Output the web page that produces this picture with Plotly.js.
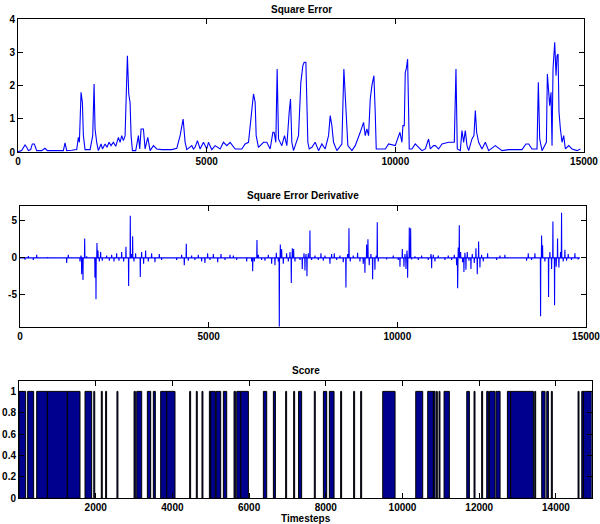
<!DOCTYPE html>
<html>
<head>
<meta charset="utf-8">
<script src="https://cdn.plot.ly/plotly-3.0.1.min.js"></script>
<style>html,body{margin:0;padding:0;background:#fff;}#chart{width:600px;height:524px;}</style>
</head>
<body>
<div id="chart"></div>
<script>
// ---- Square Error (timestep, value) ----
var seX = [0,10,97,186,230,274,336,380,433,495,628,716,778,981,1202,1246,1291,1423,1556,1600,1627,1671,1706,1733,1777,1910,1980,2016,2042,2086,2130,2201,2237,2307,2360,2413,2466,2528,2590,2661,2705,2749,2793,2838,2864,2899,2935,2970,2997,3032,3120,3191,3226,3262,3324,3368,3439,3501,3589,3677,3810,4075,4208,4296,4376,4429,4473,4606,4650,4694,4756,4826,4915,5003,
5047,5136,5224,5357,5445,5534,5622,5755,5931,6020,6108,6170,6241,6285,6312,6373,6506,6594,6683,6754,6789,6833,6868,6904,6992,7063,7125,7187,7222,7257,7302,7434,7496,7549,7584,7629,7655,7682,7717,7788,7876,7965,8053,8141,8230,8274,8318,8362,8451,8583,8636,8689,8742,8849,8937,9070,9158,9202,9246,9291,9335,9379,9432,9467,9494,9733,9821,
9998,10086,10122,10175,10201,10237,10263,10290,10325,10352,10369,10440,10528,10617,10705,10794,10882,10926,11015,11059,11147,11236,11412,11501,11563,11607,11642,11722,11766,11810,11854,11899,11943,12031,12084,12120,12155,12208,12296,12385,12473,12650,12827,13004,13357,13463,13534,13622,13755,13790,13826,13888,14003,14029,14064,14091,14126,14153,14179,14206,14224,14259,14285,14312,14338,14374,14418,14462,14506,14595,14683,14816,14904];
var seY = [0.02,0.02,0.05,0.22,0.15,0.05,0.08,0.25,0.25,0.05,0.05,0.12,0.05,0.04,0.05,0.28,0.05,0.06,0.08,0.45,0.3,1.8,1.5,0.5,0.08,0.08,0.5,2.05,0.7,0.3,0.05,0.25,0.1,0.25,0.15,0.3,0.2,0.3,0.18,0.45,0.3,0.5,0.35,0.5,1.8,2.9,1.75,1.5,0.5,0.05,0.05,0.5,0.1,0.7,0.7,0.1,0.45,0.05,0.2,0.1,0.08,0.08,0.12,0.5,1.0,0.3,0.08,0.2,0.1,0.15,0.35,0.1,0.3,0.1,
0.3,0.08,0.2,0.1,0.3,0.2,0.3,0.1,0.1,0.25,0.3,1.0,1.75,1.5,0.5,0.15,0.3,0.3,0.1,0.6,0.6,0.3,2.5,0.4,0.2,0.5,0.2,1.2,1.6,0.3,0.05,0.5,2.1,2.6,2.7,2.7,1.5,0.3,0.1,0.15,0.3,0.05,0.25,0.1,0.5,1.1,0.8,0.3,0.05,0.25,2.5,1.5,0.2,0.05,0.2,0.6,0.9,0.5,0.7,0.5,1.6,2.0,2.3,1.2,0.1,0.1,0.25,
0.2,0.5,0.6,0.3,0.8,0.8,2.4,2.5,2.8,1.2,0.1,0.1,0.25,0.15,0.05,0.1,0.4,0.1,0.2,0.2,0.1,0.25,0.3,0.3,0.3,2.5,0.1,0.05,0.65,0.3,0.65,0.2,0.05,0.4,0.5,1.25,0.6,0.3,0.1,0.3,0.05,0.2,0.05,0.08,0.08,0.25,0.25,0.1,0.1,2.1,0.4,0.05,0.3,2.35,1.8,1.4,1.8,0.2,2.5,3.05,3.3,2.3,2.9,2.95,1.2,0.7,0.3,0.5,0.1,0.2,0.1,0.05,0.1];

// ---- Square Error Derivative: spike positions and values (baseline 0 elsewhere) ----
var dSpikeX = [133,221,354,442,733,1237,1281,1590,1616,1634,1669,1714,1766,1987,2014,2040,2067,2102,2137,2181,2296,2367,2429,2491,2561,2623,2694,2747,2808,2879,2923,2959,2985,3020,3064,3188,3223,3276,3329,3400,3488,3577,3692,3753,4151,4283,4354,4407,4460,4548,4636,4725,4813,4901,4972,
5035,5124,5239,5327,5433,5565,5654,5742,6007,6139,6166,6210,6280,6316,6404,6492,6581,6669,6757,6793,6846,6872,6899,6934,6978,7066,7111,7155,7190,7217,7252,7287,7420,7481,7526,7552,7579,7605,7640,7684,7729,7817,7905,7976,8038,8082,8214,8258,8329,8391,8479,8567,8638,8682,8718,8753,8832,8947,9009,9097,9141,9186,9221,9256,9300,9345,9406,9442,9468,9495,9715,9892,10024,
10070,10132,10176,10202,10229,10255,10273,10317,10353,10379,10467,10556,10644,10820,10891,10909,10953,10997,11085,11262,11350,11439,11509,11571,11598,11615,11642,11677,11730,11765,11792,11818,11854,11898,11951,11986,12039,12083,12119,12154,12189,12233,12277,12392,12631,12719,12851,13425,13470,13558,13646,13796,13823,13849,13911,14008,14043,14088,14123,14167,14211,14246,14282,14326,14352,14396,14441,14485,14529,14617,14706,14794];
var dSpikeY = [-0.25,0.25,-0.3,0.4,0.1,-0.7,0.4,-0.5,0.3,-2.2,-3.0,2.6,0.2,-2.7,-5.6,2.0,1.0,-0.5,0.8,-0.4,0.3,-0.4,0.4,-0.5,0.6,-0.4,0.8,-0.5,1.5,-3.8,5.7,0.5,2.9,-0.5,0.6,-2.6,0.8,-0.8,1.0,-0.5,0.6,-0.6,0.5,-0.3,-0.3,0.4,-1.0,1.9,-0.4,0.3,-0.3,0.4,-0.5,-0.7,0.6,
-0.3,0.5,-0.6,0.5,-0.3,0.4,0.3,-0.3,-0.5,-0.5,-1.8,-0.5,2.4,0.4,-0.3,-0.4,0.4,-0.8,-1.0,0.7,-0.5,-9.3,1.8,1.2,-0.8,0.6,-0.5,0.8,-3.4,1.3,1.2,-0.5,-0.3,-1.5,0.6,-1.7,0.5,-2.5,0.6,3.7,-0.3,0.3,-0.3,0.6,-0.4,0.3,-0.8,0.5,0.6,-0.3,0.3,-0.6,-4.0,0.5,4.0,-0.5,0.3,0.7,-0.5,-0.8,-2.0,1.8,2.5,-1.0,0.5,-2.9,-1.6,0.3,4.8,-0.5,-0.2,0.3,-0.3,
-1.2,1.2,-1.2,0.5,-1.5,1.0,-2.7,4.1,4.0,-0.2,0.2,-0.3,0.3,-0.3,0.5,-1.4,0.4,-0.5,0.3,-0.3,0.3,-0.3,0.4,-1.0,-4.1,1.4,4.4,0.8,-0.6,-1.9,0.7,-1.6,0.8,-0.4,-1.5,0.5,-0.7,1.3,-2.2,2.2,-1.3,0.4,-0.5,0.6,-0.3,0.3,0.4,-0.4,0.6,-0.3,0.6,-7.9,3.0,1.7,-0.5,-5.3,0.8,-1.5,4.9,-6.4,-1.2,2.6,-1.3,0.8,6.1,-0.5,1.1,-0.4,0.5,-0.3,0.6,-0.2];
var dStart = 0, dEnd = 14840;

// ---- Score: intervals where score = 1 ----
var scoreStart = [0,226,461,740,1260,1721,1950,2146,2259,2554,3000,3069,3347,3503,3694,3851,4450,4623,4771,4964,5000,5138,5329,5607,5677,5781,6372,6633,6953,7162,7290,7700,7937,8093,8387,8726,8909,9484,10345,10657,10805,10882,10952,11083,11675,11865,12064,12196,12266,12440,12735,12822,13447,13630,13761,13881,14577,14674,14717];
var scoreEnd   = [174,382,740,1260,1591,1895,1975,2171,2284,2579,3034,3199,3434,3555,3851,4068,4475,4648,4796,5000,5120,5259,5416,5642,5781,5981,6459,6685,6978,7187,7370,7725,8023,8215,8412,8751,8934,9806,10527,10805,10849,10907,10977,11222,11744,11890,12089,12240,12413,12544,12822,13413,13472,13717,13804,13906,14602,14717,14934];

// build derivative line from spikes on a zero baseline
var dX = [dStart], dY = [0];
for (var i = 0; i < dSpikeX.length; i++) {
  dX.push(dSpikeX[i] - 6, dSpikeX[i], dSpikeX[i] + 6);
  dY.push(0, dSpikeY[i], 0);
}
dX.push(dEnd); dY.push(0);

var barX = [], barW = [], barY = [];
for (var j = 0; j < scoreStart.length; j++) {
  barX.push((scoreStart[j] + scoreEnd[j]) / 2);
  barW.push(scoreEnd[j] - scoreStart[j]);
  barY.push(1);
}

var blue = '#0000ff';
var traces = [
  {x: seX, y: seY, type: 'scatter', mode: 'lines', line: {color: blue, width: 1.1}, xaxis: 'x', yaxis: 'y', hoverinfo: 'skip'},
  {x: dX, y: dY, type: 'scatter', mode: 'lines', line: {color: blue, width: 1.1}, xaxis: 'x2', yaxis: 'y2', hoverinfo: 'skip'},
  {x: barX, y: barY, width: barW, type: 'bar', marker: {color: 'rgb(0,0,143)', line: {color: '#000', width: 1}}, xaxis: 'x3', yaxis: 'y3', hoverinfo: 'skip'}
];

var tf = {family: 'Liberation Sans, Arial, sans-serif', size: 10, color: '#000', weight: 'bold'};
function ax(extra) {
  var a = {showgrid: false, zeroline: false, showline: true, linecolor: '#000', linewidth: 1,
           mirror: 'ticks', ticks: 'inside', ticklen: 5, tickcolor: '#000', tickwidth: 1,
           tickfont: tf, fixedrange: true, tickmode: 'array', ticklabeloverflow: 'allow'};
  for (var k in extra) a[k] = extra[k];
  return a;
}

var layout = {
  width: 600, height: 524,
  margin: {l: 0, r: 0, t: 0, b: 0},
  paper_bgcolor: '#fff', plot_bgcolor: '#fff',
  showlegend: false, barmode: 'overlay',
  xaxis:  ax({domain: [18/600, 584/600], range: [0, 15000], anchor: 'y',
              tickvals: [0,5000,10000,15000], ticktext: ['0','5000','10000','15000']}),
  yaxis:  ax({domain: [1-152.3/524, 1-19/524], range: [0, 4], anchor: 'x',
              tickvals: [0,1,2,3,4], ticktext: ['0','1','2','3','4']}),
  xaxis2: ax({domain: [20/600, 586/600], range: [0, 15000], anchor: 'y2',
              tickvals: [0,5000,10000,15000], ticktext: ['0','5000','10000','15000']}),
  yaxis2: ax({domain: [1-326.7/524, 1-206/524], range: [-9.3, 7], anchor: 'x2',
              tickvals: [-5,0,5], ticktext: ['-5','0','5']}),
  xaxis3: ax({domain: [19/600, 591.7/600], range: [0, 14933], anchor: 'y3',
              tickvals: [2000,4000,6000,8000,10000,12000,14000],
              ticktext: ['2000','4000','6000','8000','10000','12000','14000']}),
  yaxis3: ax({domain: [1-498.3/524, 1-380.7/524], range: [0, 1.1], anchor: 'x3',
              tickvals: [0,0.2,0.4,0.6,0.8,1], ticktext: ['0','0.2','0.4','0.6','0.8','1']}),
  annotations: [
    {text: 'Square Error', x: 301/600, y: 1-9/524, xref: 'paper', yref: 'paper', showarrow: false, font: tf, xanchor: 'center', yanchor: 'middle'},
    {text: 'Square Error Derivative', x: 303/600, y: 1-195/524, xref: 'paper', yref: 'paper', showarrow: false, font: tf, xanchor: 'center', yanchor: 'middle'},
    {text: 'Score', x: 305.5/600, y: 1-370/524, xref: 'paper', yref: 'paper', showarrow: false, font: tf, xanchor: 'center', yanchor: 'middle'},
    {text: 'Timesteps', x: 305.5/600, y: 1-518/524, xref: 'paper', yref: 'paper', showarrow: false, font: tf, xanchor: 'center', yanchor: 'middle'}
  ]
};

Plotly.newPlot('chart', traces, layout, {displayModeBar: false, staticPlot: true});
</script>
</body>
</html>
